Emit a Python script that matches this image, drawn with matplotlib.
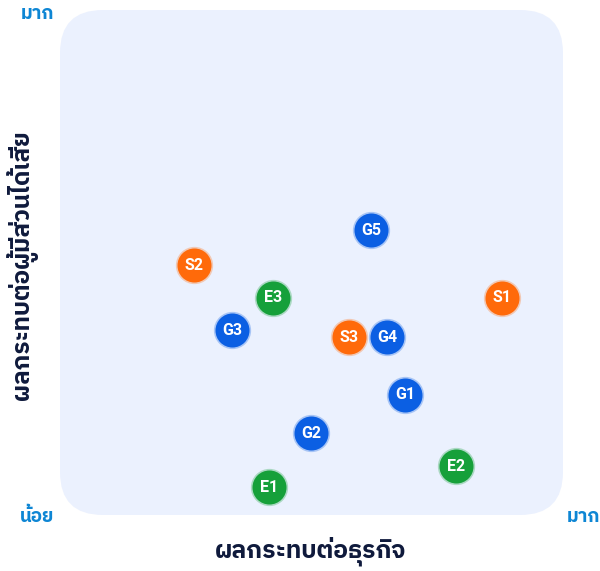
import matplotlib
matplotlib.use("Agg")
import matplotlib.pyplot as plt
from matplotlib import font_manager
from matplotlib.patches import FancyBboxPatch

# ---- data ----
labels = ["G5", "S2", "E3", "S1", "G3", "S3", "G4", "G1", "G2", "E2", "E1"]
business_impact = [6.18, 2.66, 4.23, 8.79, 3.42, 5.75, 6.50, 6.86, 4.99, 7.87, 4.16]
stakeholder_impact = [5.64, 4.95, 4.30, 4.30, 3.66, 3.52, 3.52, 2.38, 1.62, 0.97, 0.55]
groups = ["G", "S", "E", "S", "G", "S", "G", "G", "G", "E", "E"]
group_colors = {"G": "#0B5FE3", "S": "#FF6A0A", "E": "#16A03A"}
x_title = "ผลกระทบต่อธุรกิจ"
y_title = "ผลกระทบต่อผู้มีส่วนได้เสีย"
low_label = "น้อย"
high_label = "มาก"

# ---- find a Thai-capable font ----
thai_family = None
try:
    from fontTools.ttLib import TTFont
    cands = []
    for f in font_manager.fontManager.ttflist:
        try:
            tt = TTFont(f.fname, fontNumber=0, lazy=True)
            cmap = tt.getBestCmap()
            if cmap and 0x0E01 in cmap and 0x0E2D in cmap:
                cands.append(f.name)
        except Exception:
            pass
    pref = [c for c in cands if "Thai" in c] + cands
    if pref:
        thai_family = pref[0]
except Exception:
    pass
fam = [thai_family, "DejaVu Sans"] if thai_family else ["DejaVu Sans"]
plt.rcParams["font.family"] = fam

fig = plt.figure(figsize=(6.0, 5.71), dpi=100)
ax = fig.add_axes([60/600, 56/571, 503/600, 505/571])
ax.set_xlim(0, 10)
ax.set_ylim(0, 10)
ax.axis("off")

bg = FancyBboxPatch((0, 0), 1, 1, boxstyle="round,pad=0,rounding_size=0.085",
                    transform=ax.transAxes, facecolor="#EBF1FE", edgecolor="none", zorder=0)
ax.add_patch(bg)

for lab, x, y, g in zip(labels, business_impact, stakeholder_impact, groups):
    c = group_colors[g]
    ax.scatter([x], [y], s=720, color=c, alpha=0.3, zorder=2, linewidths=0)
    ax.scatter([x], [y], s=600, color=c, zorder=3, linewidths=0)
    ax.text(x, y, lab, ha="center", va="center", color="white", fontsize=11.5,
            fontweight="bold", family=["Roboto", "DejaVu Sans"], zorder=4)

blue = "#0E86D4"
fig.text(37/600, 1 - 14/571, high_label, ha="center", va="center", color=blue,
         fontsize=13.5, fontweight="bold")
fig.text(37/600, 1 - 517/571, low_label, ha="center", va="center", color=blue,
         fontsize=13.5, fontweight="bold")
fig.text(583/600, 1 - 517/571, high_label, ha="center", va="center", color=blue,
         fontsize=13.5, fontweight="bold")
fig.text(311/600, 1 - 551/571, x_title, ha="center", va="center", color="#0F1A3C",
         fontsize=17.8, fontweight="bold")
fig.text(22/600, 1 - 265/571, y_title, ha="center", va="center", color="#0F1A3C",
         fontsize=17.6, fontweight="bold", rotation=90)

fig.savefig("out.png", dpi=100)
